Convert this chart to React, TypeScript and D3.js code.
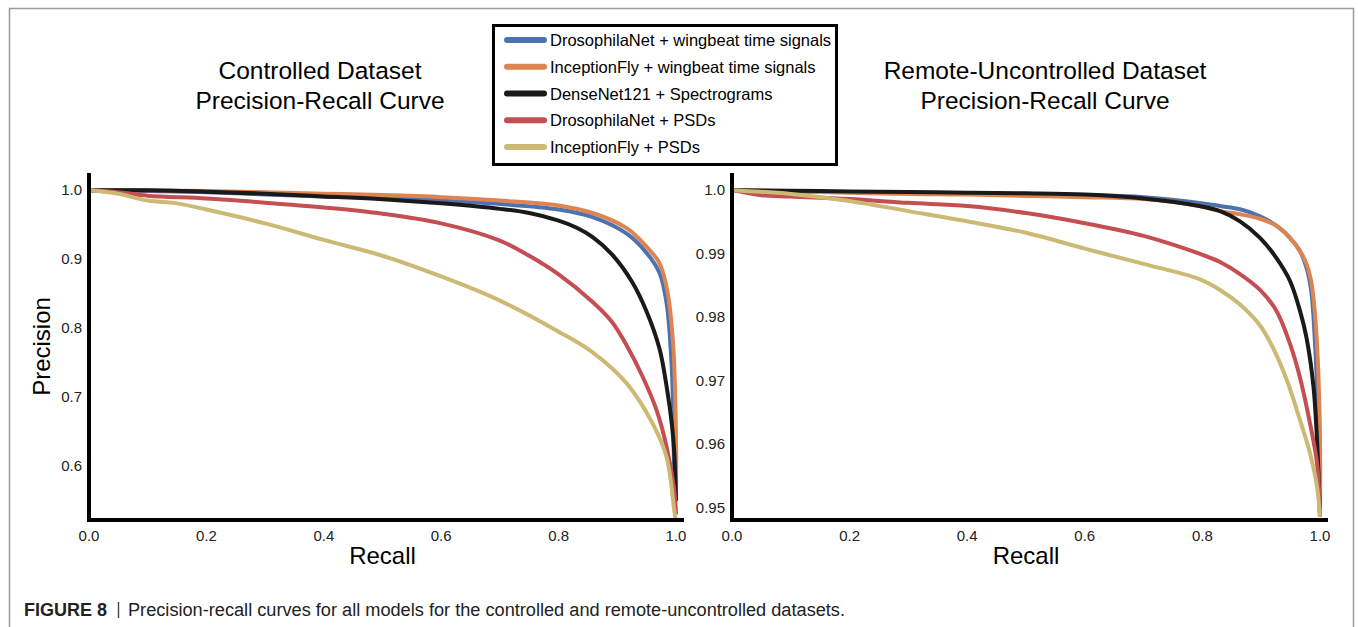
import React from 'react';
import * as d3 from 'd3';

// series names and colours (legend order)
const seriesNames = [
  'DrosophilaNet + wingbeat time signals',
  'InceptionFly + wingbeat time signals',
  'DenseNet121 + Spectrograms',
  'DrosophilaNet + PSDs',
  'InceptionFly + PSDs',
];
const seriesColors = ['#4c72b0', '#dd8452', '#1a1a1a', '#c44e52', '#ccb974'];

// Controlled dataset curves (recall / precision)
const ctrlRecallDnTime = [0, 0.05, 0.1, 0.2, 0.3, 0.4, 0.5, 0.6, 0.7, 0.8, 0.858, 0.916, 0.95, 0.972, 0.984, 0.993, 0.997, 1.0];
const ctrlPrecDnTime = [1.0, 1.0, 0.999, 0.997, 0.994, 0.991, 0.989, 0.985, 0.98, 0.972, 0.961, 0.937, 0.909, 0.88, 0.836, 0.739, 0.594, 0.55];
const ctrlRecallIfTime = [0, 0.05, 0.1, 0.2, 0.3, 0.4, 0.5, 0.6, 0.7, 0.8, 0.858, 0.916, 0.95, 0.972, 0.985, 0.995, 1.0, 1.0];
const ctrlPrecIfTime = [1.0, 1.0, 1.0, 0.999, 0.997, 0.995, 0.993, 0.99, 0.985, 0.978, 0.967, 0.945, 0.918, 0.894, 0.855, 0.778, 0.642, 0.55];
const ctrlRecallDense = [0, 0.1, 0.2, 0.3, 0.4, 0.5, 0.6, 0.7, 0.75, 0.8, 0.83, 0.858, 0.892, 0.926, 0.95, 0.972, 0.985, 0.993, 0.997, 1.0];
const ctrlPrecDense = [1.0, 1.0, 0.998, 0.995, 0.991, 0.987, 0.981, 0.973, 0.967, 0.956, 0.946, 0.932, 0.906, 0.866, 0.824, 0.77, 0.71, 0.66, 0.62, 0.55];
const ctrlRecallDnPsd = [0, 0.05, 0.1, 0.2, 0.3, 0.4, 0.5, 0.6, 0.7, 0.75, 0.8, 0.858, 0.89, 0.916, 0.943, 0.967, 0.984, 0.997, 1.0];
const ctrlPrecDnPsd = [1.0, 0.997, 0.992, 0.988, 0.982, 0.975, 0.966, 0.952, 0.927, 0.905, 0.878, 0.838, 0.81, 0.775, 0.73, 0.681, 0.628, 0.565, 0.53];
const ctrlRecallIfPsd = [0, 0.05, 0.1, 0.15, 0.2, 0.3, 0.4, 0.5, 0.6, 0.7, 0.8, 0.858, 0.916, 0.96, 0.984, 0.997, 1.0];
const ctrlPrecIfPsd = [1.0, 0.995, 0.985, 0.981, 0.972, 0.952, 0.928, 0.905, 0.875, 0.84, 0.795, 0.765, 0.72, 0.662, 0.613, 0.536, 0.52];

// Remote-uncontrolled dataset curves
const remRecallDnTime = [0, 0.1, 0.2, 0.3, 0.4, 0.5, 0.6, 0.7, 0.795, 0.83, 0.864, 0.898, 0.926, 0.949, 0.966, 0.977, 0.985, 0.991, 0.996, 1.0, 1.0];
const remPrecDnTime = [1.0, 0.9998, 0.9997, 0.9996, 0.9995, 0.9994, 0.9992, 0.9989, 0.998, 0.9975, 0.997, 0.9959, 0.9944, 0.9925, 0.9904, 0.9878, 0.9842, 0.9768, 0.9665, 0.951, 0.9486];
const remRecallIfTime = [0, 0.1, 0.2, 0.3, 0.4, 0.5, 0.6, 0.7, 0.795, 0.83, 0.864, 0.898, 0.926, 0.949, 0.966, 0.977, 0.985, 0.991, 0.996, 1.0, 1.0];
const remPrecIfTime = [1.0, 0.9998, 0.9996, 0.9994, 0.9993, 0.9991, 0.9989, 0.9986, 0.9975, 0.9967, 0.9962, 0.9955, 0.9944, 0.9925, 0.9904, 0.9884, 0.9857, 0.981, 0.9737, 0.961, 0.9486];
const remRecallDense = [0, 0.1, 0.2, 0.3, 0.4, 0.5, 0.6, 0.7, 0.795, 0.83, 0.864, 0.898, 0.926, 0.949, 0.966, 0.977, 0.989, 0.996, 1.0];
const remPrecDense = [1.0, 0.9999, 0.9998, 0.9997, 0.9996, 0.9995, 0.9993, 0.9987, 0.9975, 0.9967, 0.9951, 0.9925, 0.9893, 0.9857, 0.981, 0.9768, 0.969, 0.9586, 0.9486];
const remRecallDnPsd = [0, 0.05, 0.1, 0.2, 0.3, 0.4, 0.5, 0.6, 0.7, 0.795, 0.83, 0.864, 0.898, 0.926, 0.949, 0.966, 0.983, 0.995, 1.0];
const remPrecDnPsd = [1.0, 0.9992, 0.999, 0.9986, 0.998, 0.9975, 0.9964, 0.9948, 0.9928, 0.99, 0.9887, 0.9868, 0.9843, 0.981, 0.9758, 0.9705, 0.9633, 0.957, 0.9486];
const remRecallIfPsd = [0, 0.1, 0.2, 0.3, 0.4, 0.5, 0.6, 0.7, 0.795, 0.83, 0.864, 0.898, 0.92, 0.944, 0.966, 0.983, 0.995, 1.0];
const remPrecIfPsd = [1.0, 0.9994, 0.9983, 0.9967, 0.9951, 0.9933, 0.9908, 0.9884, 0.986, 0.9843, 0.982, 0.9787, 0.9752, 0.97, 0.9638, 0.9586, 0.9533, 0.9486];

const xTicks = [0, 0.2, 0.4, 0.6, 0.8, 1.0];
const ctrlYTicks = [0.6, 0.7, 0.8, 0.9, 1.0];
const remYTicks = [0.95, 0.96, 0.97, 0.98, 0.99, 1.0];

const ctrlCurves = [
  [ctrlRecallDnTime, ctrlPrecDnTime],
  [ctrlRecallIfTime, ctrlPrecIfTime],
  [ctrlRecallDense, ctrlPrecDense],
  [ctrlRecallDnPsd, ctrlPrecDnPsd],
  [ctrlRecallIfPsd, ctrlPrecIfPsd],
];
const remCurves = [
  [remRecallDnTime, remPrecDnTime],
  [remRecallIfTime, remPrecIfTime],
  [remRecallDense, remPrecDense],
  [remRecallDnPsd, remPrecDnPsd],
  [remRecallIfPsd, remPrecIfPsd],
];

const FONT = 'Arial, "Liberation Sans", Helvetica, sans-serif';

function Panel({ x0, x1, titleX, yDomain, yTicks, curves, title, yLabel, tickFmt }) {
  const top = 173;
  const bottom = 520;
  const x = d3.scaleLinear().domain([0, 1.0136]).range([x0, x1]);
  const y = d3.scaleLinear().domain(yDomain).range([bottom, top]);
  const line = d3
    .line<[number, number]>()
    .x((d) => x(d[0]))
    .y((d) => y(d[1]))
    .curve(d3.curveCatmullRom.alpha(0.5));

  return (
    <g>
      {/* title */}
      <text x={titleX} y={79} textAnchor="middle" fontSize={24.5} fontFamily={FONT} fill="#000">
        {title[0]}
      </text>
      <text x={titleX} y={109} textAnchor="middle" fontSize={24.5} fontFamily={FONT} fill="#000">
        {title[1]}
      </text>

      {/* curves */}
      {curves.map(([rs, ps], i) => (
        <path
          key={i}
          d={line(rs.map((r, j) => [r, ps[j]]))}
          fill="none"
          stroke={seriesColors[i]}
          strokeWidth={4}
          strokeLinejoin="round"
        />
      ))}

      {/* spines */}
      <line x1={x0} x2={x0} y1={top} y2={bottom + 2} stroke="#000" strokeWidth={4} />
      <line x1={x0 - 2} x2={x1} y1={bottom} y2={bottom} stroke="#000" strokeWidth={4} />

      {/* ticks */}
      {xTicks.map((t) => (
        <text key={t} x={x(t)} y={541} textAnchor="middle" fontSize={15} fontFamily={FONT} fill="#222">
          {d3.format('.1f')(t)}
        </text>
      ))}
      {yTicks.map((t) => (
        <text key={t} x={x0 - 7} y={y(t) + 5} textAnchor="end" fontSize={15} fontFamily={FONT} fill="#222">
          {tickFmt(t)}
        </text>
      ))}

      <text x={x(0.5)} y={564} textAnchor="middle" fontSize={24} fontFamily={FONT} fill="#000">
        Recall
      </text>
      {yLabel && (
        <text
          transform={`translate(50,${(top + bottom) / 2}) rotate(-90)`}
          textAnchor="middle"
          fontSize={24}
          fontFamily={FONT}
          fill="#000"
        >
          {yLabel}
        </text>
      )}
    </g>
  );
}

export default function App() {
  const legendY = d3.scaleLinear().domain([0, 4]).range([40, 147]);
  return (
    <svg
      width={1358}
      height={627}
      style={{ position: 'absolute', left: 0, top: 0, background: '#fff' }}
    >
      <rect width={1358} height={627} fill="#fff" />
      {/* figure frame */}
      <path d="M9.5,627 V8.5 H1353.5 V627" fill="none" stroke="#9a9a9a" strokeWidth={1.5} />

      <Panel
        x0={89}
        x1={684}
        titleX={320}
        yDomain={[0.522, 1.025]}
        yTicks={ctrlYTicks}
        curves={ctrlCurves}
        title={['Controlled Dataset', 'Precision-Recall Curve']}
        yLabel="Precision"
        tickFmt={d3.format('.1f')}
      />
      <Panel
        x0={732}
        x1={1328}
        titleX={1045}
        yDomain={[0.9481, 1.0027]}
        yTicks={remYTicks}
        curves={remCurves}
        title={['Remote-Uncontrolled Dataset', 'Precision-Recall Curve']}
        yLabel={null}
        tickFmt={(t) => (t === 1 ? '1.0' : d3.format('.2f')(t))}
      />

      {/* legend */}
      <rect x={493.5} y={25.5} width={343} height={139} fill="#fff" stroke="#000" strokeWidth={3} />
      {seriesNames.map((name, i) => (
        <g key={name}>
          <line
            x1={507}
            x2={544}
            y1={legendY(i)}
            y2={legendY(i)}
            stroke={seriesColors[i]}
            strokeWidth={6}
            strokeLinecap="round"
          />
          <text x={550} y={legendY(i) + 6} fontSize={16.5} fontFamily={FONT} fill="#000">
            {name}
          </text>
        </g>
      ))}

      {/* caption */}
      <text x={24} y={616} fontSize={18} fontFamily={'"Liberation Sans Narrow", Arial, sans-serif'} fill="#222">
        <tspan fontWeight="bold" textLength={83} lengthAdjust="spacingAndGlyphs">FIGURE 8</tspan>
      </text>
      <line x1={118.5} x2={118.5} y1={602} y2={618} stroke="#444" strokeWidth={1.4} />
      <text
        x={128}
        y={616}
        fontSize={18}
        fontFamily={'"Liberation Sans Narrow", Arial, sans-serif'}
        fill="#222"
        textLength={717}
        lengthAdjust="spacingAndGlyphs"
      >
        Precision-recall curves for all models for the controlled and remote-uncontrolled datasets.
      </text>
    </svg>
  );
}
